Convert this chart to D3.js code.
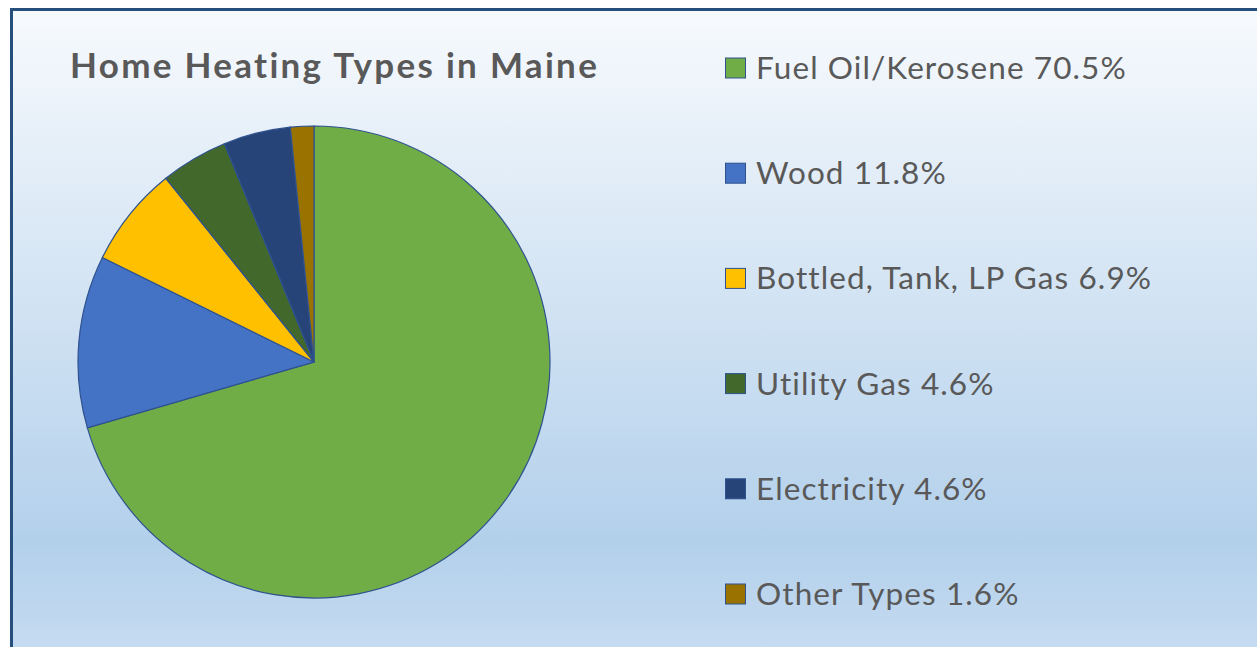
<!DOCTYPE html>
<html>
<head>
<meta charset="utf-8">
<script src="https://cdn.jsdelivr.net/npm/d3@7"></script>
<style>
  html, body { margin: 0; padding: 0; background: #fff; }
  svg { display: block; }
  text { font-variant-ligatures: none; }
</style>
</head>
<body>
<div id="chart"></div>
<script>
const categories = ["Fuel Oil/Kerosene", "Wood", "Bottled, Tank, LP Gas", "Utility Gas", "Electricity", "Other Types"];
const values = [70.5, 11.8, 6.9, 4.6, 4.6, 1.6];
const colors = ["#70ad47", "#4472c4", "#ffc000", "#43682b", "#264478", "#9a7200"];
const title = "Home Heating Types in Maine";

const width = 1257, height = 647;

const svg = d3.select("#chart").append("svg")
    .attr("width", width)
    .attr("height", height);

let grad = svg.append("defs").append("linearGradient")
    .attr("id", "bg")
    .attr("x1", 0).attr("y1", 0).attr("x2", 0).attr("y2", 1);
grad.append("stop").attr("offset", "0%").attr("stop-color", "#f7fafd");
grad.append("stop").attr("offset", "80%").attr("stop-color", "#b3d0eb");
grad.append("stop").attr("offset", "100%").attr("stop-color", "#cadef2");

// chart area with border, running off the right and bottom edge
svg.append("rect")
    .attr("x", 11.5).attr("y", 9.5)
    .attr("width", width + 20).attr("height", height + 20)
    .attr("fill", "url(#bg)")
    .attr("stroke", "#264f7d")
    .attr("stroke-width", 3);

svg.append("text")
    .attr("x", 70).attr("y", 63.5)
    .attr("dominant-baseline", "central")
    .attr("font-family", "Lato, sans-serif")
    .attr("font-weight", "bold")
    .attr("font-size", 35)
    .attr("letter-spacing", 2.3)
    .attr("fill", "#595959")
    .text(title);

// pie
let data = categories.map((c, i) => ({name: c, value: values[i], color: colors[i]}));

let pie = d3.pie().sort(null).value(d => d.value);
let arc = d3.arc().innerRadius(0).outerRadius(236);

svg.append("g")
    .attr("transform", "translate(314,362)")
    .selectAll("path")
    .data(pie(data))
    .enter().append("path")
    .attr("d", arc)
    .attr("fill", d => d.data.color)
    .attr("stroke", "#2f528f")
    .attr("stroke-width", 1.2);

// legend
let y = d3.scalePoint()
    .domain(categories)
    .range([68, 594]);

let legend = svg.append("g")
    .selectAll("g")
    .data(data)
    .enter().append("g")
    .attr("transform", d => `translate(725,${y(d.name)})`);

legend.append("rect")
    .attr("x", 0.5).attr("y", -10)
    .attr("width", 20).attr("height", 20)
    .attr("fill", d => d.color)
    .attr("stroke", "#2f528f")
    .attr("stroke-width", 1);

legend.append("text")
    .attr("x", 31).attr("y", -1)
    .attr("dominant-baseline", "central")
    .attr("font-family", "Lato, sans-serif")
    .attr("font-size", 31.5)
    .attr("letter-spacing", 1.1)
    .attr("fill", "#595959")
    .text(d => `${d.name} ${d.value.toFixed(1)}%`);
</script>
</body>
</html>
